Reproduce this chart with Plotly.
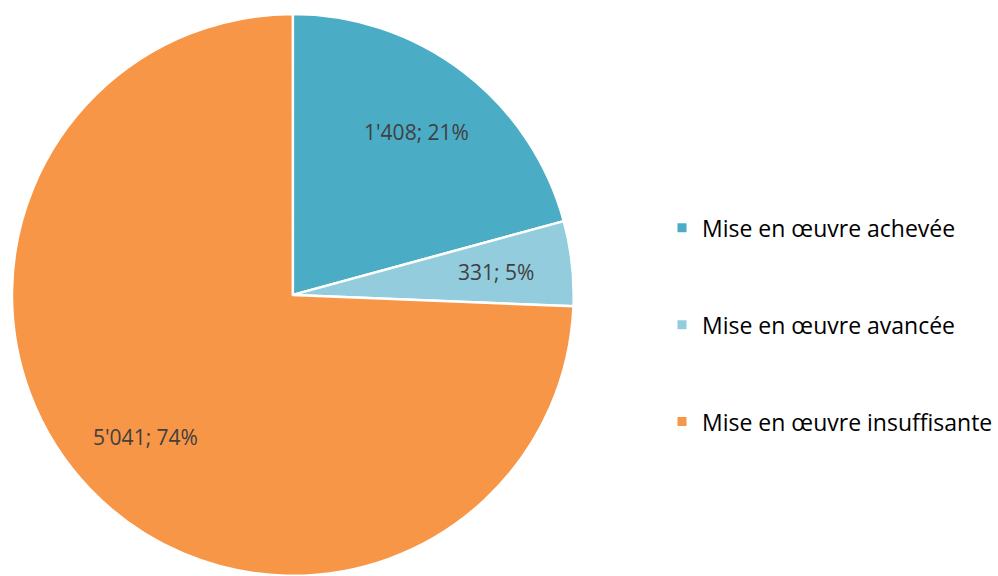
import math
import plotly.graph_objects as go

categories = ["Mise en œuvre achevée", "Mise en œuvre avancée", "Mise en œuvre insuffisante"]
values = [1408, 331, 5041]
colors = ["#4BACC6", "#93CDDD", "#F79646"]

W, H = 998, 576
pie_x = [12 / W, 576 / W]
pie_y = [0.0, 0.976]

fig = go.Figure()

fig.add_trace(go.Pie(
    labels=categories,
    values=values,
    sort=False,
    direction="clockwise",
    rotation=0,
    marker=dict(colors=colors, line=dict(color="white", width=2.5)),
    textinfo="none",
    showlegend=False,
    hoverinfo="label+value+percent",
    domain=dict(x=pie_x, y=pie_y),
))

# Data labels "value; percent", placed along each slice's bisector
total = sum(values)
cx = (pie_x[0] + pie_x[1]) / 2 * W
cy = (pie_y[0] + pie_y[1]) / 2 * H
radius = min((pie_x[1] - pie_x[0]) * W, (pie_y[1] - pie_y[0]) * H) / 2
label_r = 0.73
cum = 0.0
for v in values:
    mid = (cum + v / 2) / total * 2 * math.pi
    cum += v
    px = cx + radius * label_r * math.sin(mid)
    py = cy + radius * label_r * math.cos(mid)
    txt = f"{v:,}".replace(",", "'") + f"; {round(v / total * 100)}%"
    fig.add_annotation(
        x=px / W, y=py / H, xref="paper", yref="paper",
        text=txt, showarrow=False, xanchor="center", yanchor="middle",
        font=dict(family="Open Sans", size=21, color="#404040"),
    )

# Legend entries, one group each so the groups can be spaced apart
for name, col in zip(categories, colors):
    fig.add_trace(go.Scatter(
        x=[None], y=[None], mode="markers", name=name, legendgroup=name,
        marker=dict(symbol="square", size=9, color=col),
        hoverinfo="skip",
    ))

fig.update_layout(
    width=W, height=H,
    margin=dict(l=0, r=0, t=0, b=0),
    paper_bgcolor="white", plot_bgcolor="white",
    xaxis=dict(visible=False), yaxis=dict(visible=False),
    legend=dict(
        x=0.666, y=0.436, xanchor="left", yanchor="middle",
        font=dict(family="Open Sans", size=23, color="#000000"),
        tracegroupgap=64, itemwidth=30,
        bgcolor="rgba(0,0,0,0)",
    ),
)

fig.write_html("out.html")
